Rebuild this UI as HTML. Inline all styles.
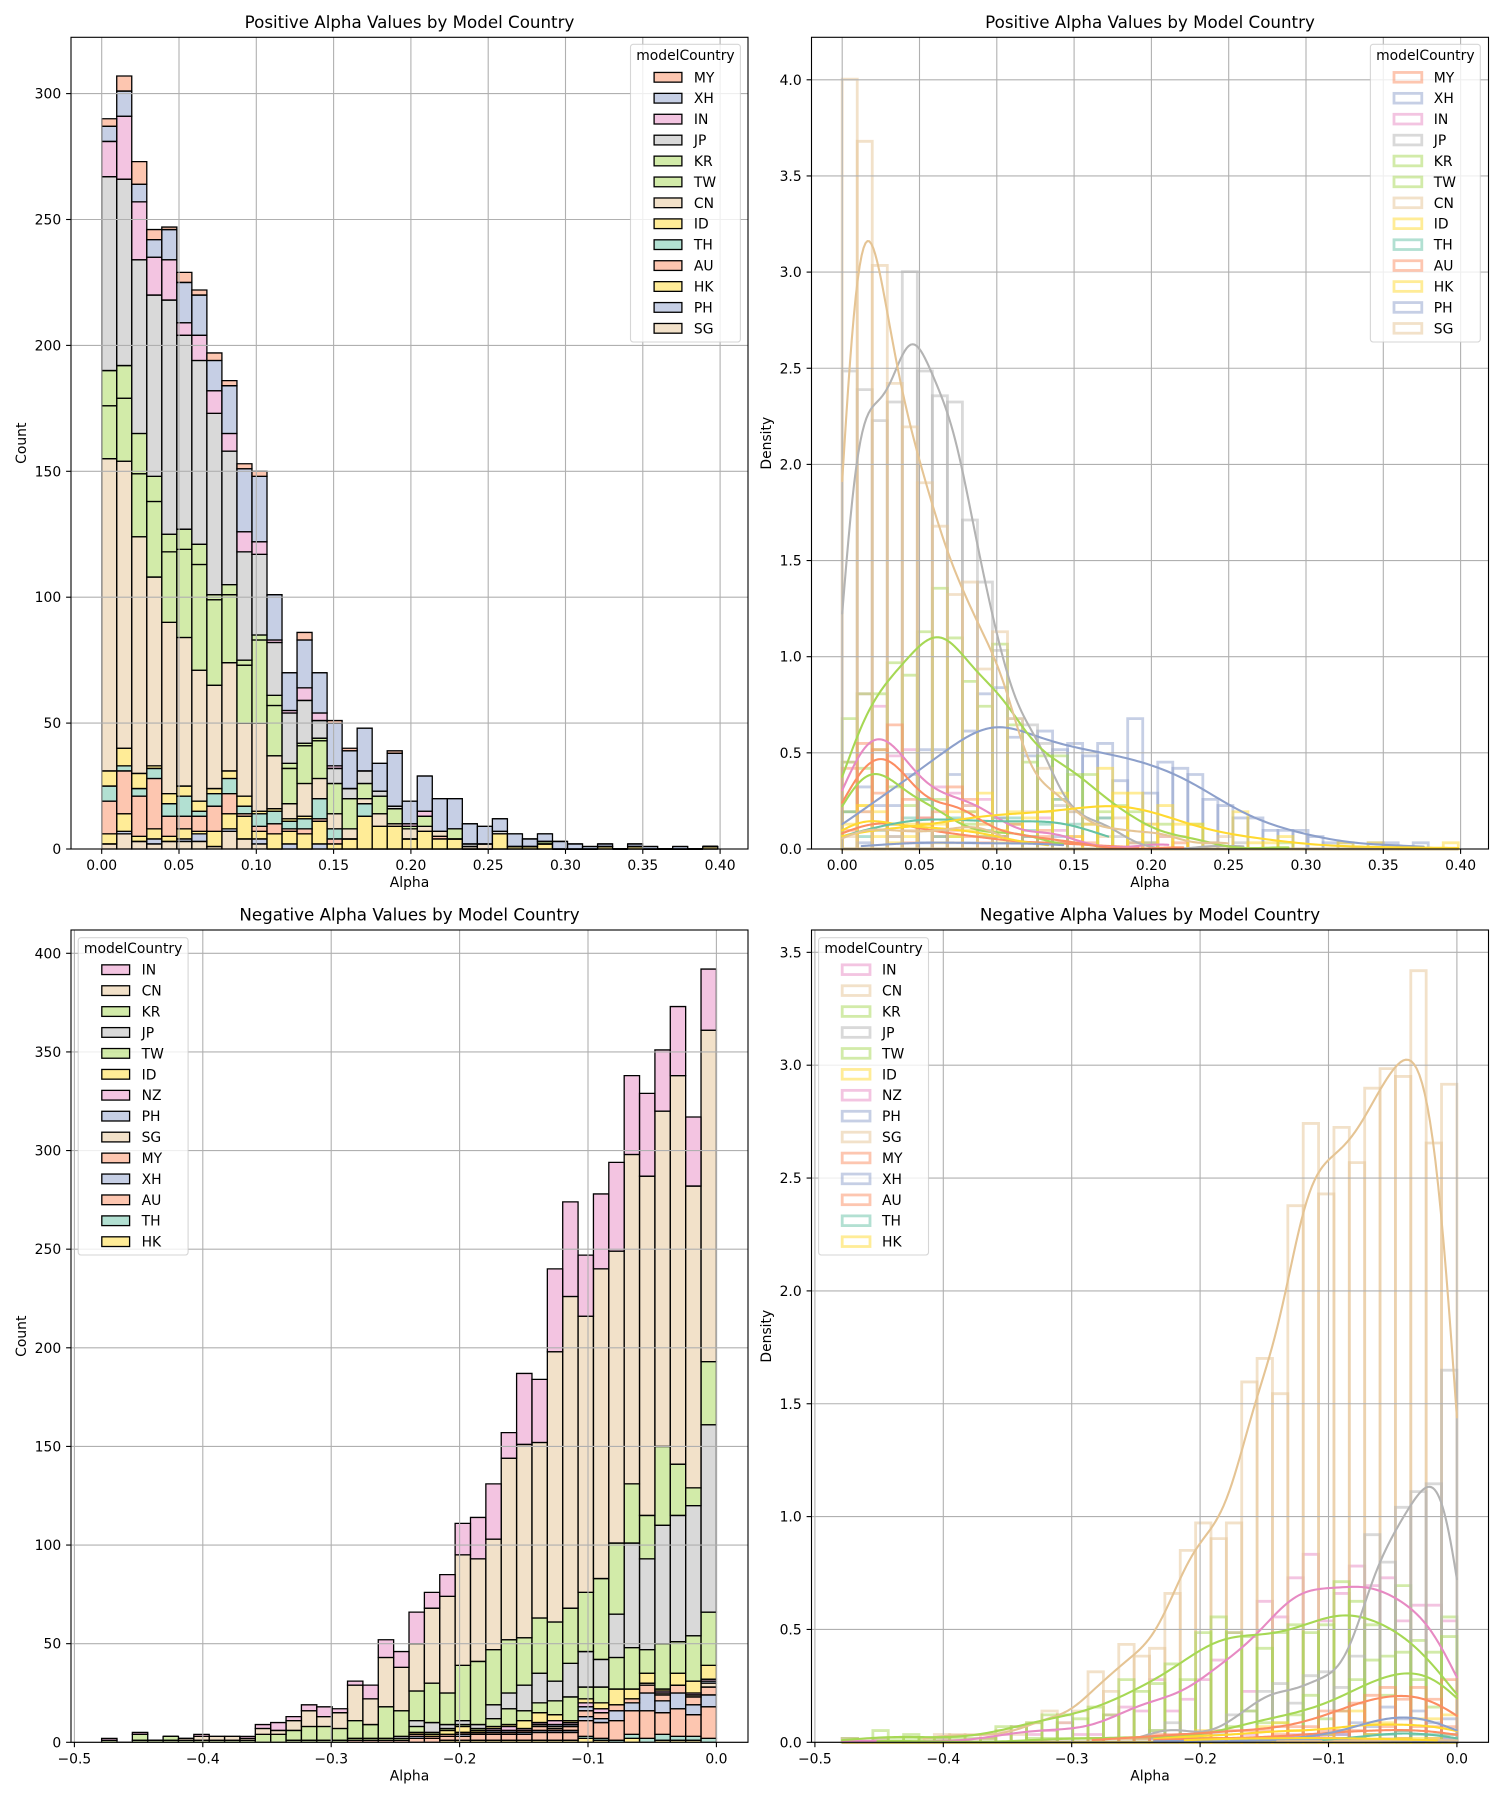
<!DOCTYPE html>
<html><head><meta charset="utf-8">
<style>
html,body{margin:0;padding:0;background:#fff;}
svg{display:block;}
text{font-family:"DejaVu Sans","Liberation Sans",sans-serif;fill:#000;}
.t{font-size:13.9px;}
.h{font-size:16.7px;}
</style></head><body>
<svg id="s" xmlns="http://www.w3.org/2000/svg" width="1500" height="1800" viewBox="0 0 1500 1800">
<rect x="0" y="0" width="1500" height="1800" fill="#fff"/>
<g id="plots"></g>
<g id="axes"></g>
<g id="leg"></g>

<!-- Titles -->
<text class="h" x="409.5" y="27.8" text-anchor="middle">Positive Alpha Values by Model Country</text>
<text class="h" x="1150" y="27.8" text-anchor="middle">Positive Alpha Values by Model Country</text>
<text class="h" x="409.5" y="920.5" text-anchor="middle">Negative Alpha Values by Model Country</text>
<text class="h" x="1150" y="920.5" text-anchor="middle">Negative Alpha Values by Model Country</text>

<!-- TL x ticks -->
<g class="t" text-anchor="middle">
<text x="101.7" y="870">0.00</text><text x="179.0" y="870">0.05</text><text x="256.3" y="870">0.10</text>
<text x="333.6" y="870">0.15</text><text x="410.9" y="870">0.20</text><text x="488.2" y="870">0.25</text>
<text x="565.5" y="870">0.30</text><text x="642.8" y="870">0.35</text><text x="720.1" y="870">0.40</text>
</g>
<!-- TR x ticks -->
<g class="t" text-anchor="middle">
<text x="842.2" y="870">0.00</text><text x="919.5" y="870">0.05</text><text x="996.8" y="870">0.10</text>
<text x="1074.1" y="870">0.15</text><text x="1151.4" y="870">0.20</text><text x="1228.7" y="870">0.25</text>
<text x="1306.0" y="870">0.30</text><text x="1383.3" y="870">0.35</text><text x="1460.6" y="870">0.40</text>
</g>
<!-- TL y ticks -->
<g class="t" text-anchor="end">
<text x="61.2" y="854">0</text><text x="61.2" y="728.1">50</text><text x="61.2" y="602.2">100</text>
<text x="61.2" y="476.3">150</text><text x="61.2" y="350.4">200</text><text x="61.2" y="224.5">250</text>
<text x="61.2" y="98.6">300</text>
</g>
<!-- TR y ticks -->
<g class="t" text-anchor="end">
<text x="801.7" y="854">0.0</text><text x="801.7" y="757.85">0.5</text><text x="801.7" y="661.7">1.0</text>
<text x="801.7" y="565.55">1.5</text><text x="801.7" y="469.4">2.0</text><text x="801.7" y="373.25">2.5</text>
<text x="801.7" y="277.1">3.0</text><text x="801.7" y="180.95">3.5</text><text x="801.7" y="84.8">4.0</text>
</g>
<!-- BL x ticks -->
<g class="t" text-anchor="middle">
<text x="74.4" y="1763.3">−0.5</text><text x="202.8" y="1763.3">−0.4</text><text x="331.2" y="1763.3">−0.3</text>
<text x="459.6" y="1763.3">−0.2</text><text x="588.0" y="1763.3">−0.1</text><text x="716.4" y="1763.3">0.0</text>
</g>
<!-- BR x ticks -->
<g class="t" text-anchor="middle">
<text x="814.9" y="1763.3">−0.5</text><text x="943.3" y="1763.3">−0.4</text><text x="1071.7" y="1763.3">−0.3</text>
<text x="1200.1" y="1763.3">−0.2</text><text x="1328.5" y="1763.3">−0.1</text><text x="1456.9" y="1763.3">0.0</text>
</g>
<!-- BL y ticks -->
<g class="t" text-anchor="end">
<text x="61.2" y="1747.3">0</text><text x="61.2" y="1648.7">50</text><text x="61.2" y="1550.05">100</text>
<text x="61.2" y="1451.4">150</text><text x="61.2" y="1352.8">200</text><text x="61.2" y="1254.2">250</text>
<text x="61.2" y="1155.55">300</text><text x="61.2" y="1056.9">350</text><text x="61.2" y="958.3">400</text>
</g>
<!-- BR y ticks -->
<g class="t" text-anchor="end">
<text x="801.7" y="1747.3">0.0</text><text x="801.7" y="1634.45">0.5</text><text x="801.7" y="1521.6">1.0</text>
<text x="801.7" y="1408.75">1.5</text><text x="801.7" y="1295.9">2.0</text><text x="801.7" y="1183.05">2.5</text>
<text x="801.7" y="1070.2">3.0</text><text x="801.7" y="957.35">3.5</text>
</g>

<!-- Axis labels -->
<text class="t" x="409.5" y="887" text-anchor="middle">Alpha</text>
<text class="t" x="1150" y="887" text-anchor="middle">Alpha</text>
<text class="t" x="409.5" y="1780.3" text-anchor="middle">Alpha</text>
<text class="t" x="1150" y="1780.3" text-anchor="middle">Alpha</text>
<text class="t" transform="translate(26,443.2) rotate(-90)" text-anchor="middle">Count</text>
<text class="t" transform="translate(771,443.2) rotate(-90)" text-anchor="middle">Density</text>
<text class="t" transform="translate(26,1336.2) rotate(-90)" text-anchor="middle">Count</text>
<text class="t" transform="translate(771,1336.2) rotate(-90)" text-anchor="middle">Density</text>

<!-- TL legend text -->
<g class="t">
<text x="685.45" y="59.8" text-anchor="middle">modelCountry</text>
<text x="693.9" y="82.3">MY</text><text x="693.9" y="103.2">XH</text><text x="693.9" y="124.1">IN</text>
<text x="693.9" y="145.1">JP</text><text x="693.9" y="166.0">KR</text><text x="693.9" y="186.9">TW</text>
<text x="693.9" y="207.8">CN</text><text x="693.9" y="228.7">ID</text><text x="693.9" y="249.7">TH</text>
<text x="693.9" y="270.6">AU</text><text x="693.9" y="291.5">HK</text><text x="693.9" y="312.4">PH</text>
<text x="693.9" y="333.3">SG</text>
</g>
<!-- TR legend text -->
<g class="t">
<text x="1425.35" y="59.8" text-anchor="middle">modelCountry</text>
<text x="1433.8" y="82.3">MY</text><text x="1433.8" y="103.2">XH</text><text x="1433.8" y="124.1">IN</text>
<text x="1433.8" y="145.1">JP</text><text x="1433.8" y="166.0">KR</text><text x="1433.8" y="186.9">TW</text>
<text x="1433.8" y="207.8">CN</text><text x="1433.8" y="228.7">ID</text><text x="1433.8" y="249.7">TH</text>
<text x="1433.8" y="270.6">AU</text><text x="1433.8" y="291.5">HK</text><text x="1433.8" y="312.4">PH</text>
<text x="1433.8" y="333.3">SG</text>
</g>
<!-- BL legend text -->
<g class="t">
<text x="133.15" y="953.2" text-anchor="middle">modelCountry</text>
<text x="141.6" y="974.7">IN</text><text x="141.6" y="995.6">CN</text><text x="141.6" y="1016.5">KR</text>
<text x="141.6" y="1037.5">JP</text><text x="141.6" y="1058.4">TW</text><text x="141.6" y="1079.3">ID</text>
<text x="141.6" y="1100.2">NZ</text><text x="141.6" y="1121.1">PH</text><text x="141.6" y="1142.1">SG</text>
<text x="141.6" y="1163.0">MY</text><text x="141.6" y="1183.9">XH</text><text x="141.6" y="1204.8">AU</text>
<text x="141.6" y="1225.7">TH</text><text x="141.6" y="1246.7">HK</text>
</g>
<!-- BR legend text -->
<g class="t">
<text x="873.55" y="953.2" text-anchor="middle">modelCountry</text>
<text x="882" y="974.7">IN</text><text x="882" y="995.6">CN</text><text x="882" y="1016.5">KR</text>
<text x="882" y="1037.5">JP</text><text x="882" y="1058.4">TW</text><text x="882" y="1079.3">ID</text>
<text x="882" y="1100.2">NZ</text><text x="882" y="1121.1">PH</text><text x="882" y="1142.1">SG</text>
<text x="882" y="1163.0">MY</text><text x="882" y="1183.9">XH</text><text x="882" y="1204.8">AU</text>
<text x="882" y="1225.7">TH</text><text x="882" y="1246.7">HK</text>
</g>
</svg>
<script>
(function(){
var NS="http://www.w3.org/2000/svg";
function mk(p,tag,a){var e=document.createElementNS(NS,tag);for(var k in a)e.setAttribute(k,a[k]);p.appendChild(e);return e;}
var C={te:'#66c2a5',or:'#fc8d62',bl:'#8da0cb',pi:'#e78ac3',gr:'#a6d854',ye:'#ffd92f',ta:'#e5c494',gy:'#b3b3b3'};
var TH=['SG','PH','HK','AU','TH','ID','CN','TW','KR','JP','IN','XH','MY'];
var TC=[C.ta,C.bl,C.ye,C.or,C.te,C.ye,C.ta,C.gr,C.gr,C.gy,C.pi,C.bl,C.or];
var BH=['HK','TH','AU','XH','MY','SG','PH','NZ','ID','TW','JP','KR','CN','IN'];
var BC=[C.ye,C.te,C.or,C.bl,C.or,C.ta,C.bl,C.pi,C.ye,C.gr,C.gy,C.gr,C.ta,C.pi];
function row(H,o){if(Array.isArray(o))return o;var r=[];for(var i=0;i<H.length;i++)r.push(o[H[i]]||0);return r;}

var TDraw=[
[2,0,4,13,6,6,124,21,14,77,14,6,3],
[6,1,7,17,2,7,114,25,13,74,25,10,6],
[3,0,2,16,3,6,94,25,16,69,23,7,9],
[2,2,4,20,4,1,75,30,10,72,15,7,4],
[3,0,2,8,5,4,68,28,7,93,16,12,1],
[3,1,4,5,8,4,59,35,8,77,5,16,4],
[3,3,1,6,2,4,52,42,8,73,10,16,2],
[1,0,6,10,5,2,41,34,2,72,9,12,3],
[7,1,6,8,6,3,43,27,4,53,7,19,2],
[4,0,9,1,3,4,29,23,2,43,8,25,2],
[2,2,3,2,5,1,35,33,2,32,5,26,2],
[0,0,6,4,5,1,21,20,4,21,1,18,0],
[0,2,5,1,3,1,6,14,2,20,1,15,0],
[0,0,6,2,4,1,13,15,1,17,5,19,3],
[0,2,9,1,8,0,8,15,1,7,3,16,0],
{HK:2,AU:2,TH:4,CN:6,TW:12,JP:6,IN:1,XH:17,MY:1},
{HK:4,CN:4,TW:12,JP:4,XH:15,MY:1},
{HK:13,TH:5,CN:2,TW:6,JP:5,XH:17},
{HK:9,CN:5,TW:7,JP:2,XH:11},
{HK:9,CN:1,TW:6,JP:1,XH:21,MY:1},
{HK:4,CN:4,TW:1,IN:1,XH:9},
{HK:7,CN:2,TW:4,IN:2,XH:14},
{HK:4,AU:1,CN:2,XH:13},
{HK:4,TW:4,XH:12},
{CN:1,JP:1,XH:8},
{CN:2,XH:7},
{HK:6,JP:1,XH:5},
{HK:1,XH:5},
{HK:1,XH:3},
{HK:2,TW:1,XH:3},
{XH:3},{XH:2},{XH:1},{HK:1,XH:1},{},{HK:1,XH:1},{XH:1},{},{XH:1},{},{HK:1}
];
var TD=TDraw.map(function(o){return row(TH,o);});

var BDraw=[
{KR:1,IN:1},{},{TW:1,KR:3,IN:1},{KR:1},{TW:1,KR:2},{KR:1,CN:1},{KR:1,CN:2,IN:1},{KR:1,CN:2},{KR:1,CN:2},{KR:1,CN:1,IN:1},
{KR:4,CN:3,IN:2},{KR:4,CN:2,IN:4},{TW:1,KR:5,CN:5,IN:2},{TW:1,KR:7,CN:8,IN:3},{TW:1,KR:7,CN:5,IN:5},{TW:1,KR:6,CN:8,IN:2},
{AU:1,TW:1,KR:9,CN:18,IN:2},{AU:1,TW:1,KR:7,CN:13,IN:7},{AU:1,TW:1,KR:16,CN:25,IN:9},{AU:1,TW:1,JP:1,KR:13,CN:22,IN:8},
{AU:2,XH:1,MY:1,ID:1,TW:3,JP:3,KR:15,CN:24,IN:16},
{AU:2,MY:1,ID:1,TW:1,JP:5,KR:20,CN:38,IN:8},
{HK:1,AU:2,MY:1,ID:2,TW:1,JP:2,KR:16,CN:49,IN:11},
{HK:1,AU:2,XH:1,MY:1,ID:3,TW:1,JP:2,KR:28,CN:56,IN:16},
{HK:1,AU:3,MY:1,ID:1,TW:1,JP:2,KR:32,CN:52,IN:21},
{HK:1,AU:3,MY:1,PH:1,NZ:1,ID:1,TW:4,JP:7,KR:28,CN:56,IN:28},
{HK:1,AU:3,MY:1,PH:1,NZ:2,ID:1,TW:8,JP:8,KR:27,CN:92,IN:13},
{HK:1,AU:3,XH:1,MY:1,NZ:1,ID:4,TW:5,JP:13,KR:24,CN:98,IN:36},
{HK:1,AU:4,XH:1,MY:2,SG:1,NZ:1,ID:5,TW:5,JP:15,KR:28,CN:89,IN:32},
{HK:1,AU:4,XH:1,MY:1,SG:1,PH:1,NZ:2,ID:3,TW:7,JP:10,KR:30,CN:137,IN:42},
{HK:1,AU:4,XH:1,MY:2,PH:1,NZ:1,ID:1,TW:12,JP:17,KR:28,CN:158,IN:48},
{HK:2,TH:1,AU:8,XH:2,MY:3,PH:2,NZ:2,ID:2,TW:6,JP:18,KR:30,CN:140,IN:31},
{HK:1,TH:1,AU:8,XH:2,MY:3,NZ:2,ID:3,TW:8,JP:14,KR:41,CN:157,IN:38},
{TH:1,AU:10,XH:5,MY:3,ID:8,TW:16,JP:22,KR:36,CN:148,IN:45},
{HK:2,TH:2,AU:12,XH:4,MY:2,ID:5,TW:21,JP:53,KR:30,CN:167,IN:40},
{TH:2,AU:14,XH:9,MY:4,SG:1,ID:5,TW:12,JP:46,KR:22,CN:172,IN:42},
{HK:1,TH:3,AU:11,XH:6,MY:3,SG:1,NZ:1,ID:1,TW:23,JP:60,KR:40,CN:170,IN:31},
{HK:1,TH:2,AU:14,XH:8,MY:4,ID:6,TW:16,JP:64,KR:26,CN:197,IN:35},
{HK:1,TH:2,AU:11,XH:5,MY:4,SG:1,NZ:1,ID:6,TW:23,JP:66,KR:9,CN:153,IN:35},
{TH:2,AU:16,XH:6,MY:4,SG:2,PH:1,NZ:1,ID:7,TW:27,JP:95,KR:32,CN:168,IN:31}
];
var BD=BDraw.map(function(o){return row(BH,o);});

var E1=[],E2=[];
for(var i=0;i<=41;i++)E1.push(i*0.3985/41);
for(var i=0;i<=40;i++)E2.push(-0.4788+i*0.4788/40);

function rng(a,b,s){var r=[];for(var v=a;v<=b+1e-9;v+=s)r.push(Math.round(v*1000)/1000);return r;}

var P=[
{x0:71,x1:748,y0:37.3,y1:849,X:function(a){return 101.7+a*1546;},Y:function(v){return 849-v*2.518;},E:E1,D:TD,C:TC,mode:0,xt:rng(0,0.4,0.05),yt:rng(0,300,50)},
{x0:811.5,x1:1488.5,y0:37.3,y1:849,X:function(a){return 842.2+a*1546;},Y:function(v){return 849-v*192.3;},E:E1,D:TD,C:TC,mode:1,xt:rng(0,0.4,0.05),yt:rng(0,4,0.5)},
{x0:71,x1:748,y0:930,y1:1742.3,X:function(a){return 716.4+a*1284;},Y:function(v){return 1742.3-v*1.9725;},E:E2,D:BD,C:BC,mode:0,xt:rng(-0.5,0,0.1),yt:rng(0,400,50)},
{x0:811.5,x1:1488.5,y0:930,y1:1742.3,X:function(a){return 1456.9+a*1284;},Y:function(v){return 1742.3-v*225.7;},E:E2,D:BD,C:BC,mode:1,xt:rng(-0.5,0,0.1),yt:rng(0,3.5,0.5)}
];

var root=document.getElementById('plots');
var AX=document.getElementById('axes');
function f(v){return v.toFixed(2);}
function box(g,xa,xb,ya,yb,attrs){
  attrs.d='M'+f(xa)+' '+f(yb)+'H'+f(xb)+'V'+f(ya)+'H'+f(xa)+'Z';
  return mk(g,'path',attrs);
}

P.forEach(function(p){
  var gb=mk(root,'g',{}),gg=mk(root,'g',{}),gk=mk(root,'g',{});
  var nb=p.E.length-1,nh=p.C.length;
  var N=0;p.D.forEach(function(r){r.forEach(function(v){N+=v;});});
  var w=p.E[1]-p.E[0];
  if(p.mode===0){
    for(var j=0;j<nh;j++){
      for(var i=0;i<nb;i++){
        var cum=0;for(var q=0;q<j;q++)cum+=p.D[i][q];
        var h=p.D[i][j];
        box(gb,p.X(p.E[i]),p.X(p.E[i+1]),p.Y(cum+h),p.Y(cum),{fill:p.C[j],'fill-opacity':0.5,stroke:'#000','stroke-width':1.3});
      }
    }
  }else{
    for(var j=nh-1;j>=0;j--){
      for(var i=0;i<nb;i++){
        var d=p.D[i][j]/(N*w);
        box(gb,p.X(p.E[i]),p.X(p.E[i+1]),p.Y(d),p.Y(0),{fill:'none',stroke:p.C[j],'stroke-opacity':0.5,'stroke-width':2.8});
      }
    }
    for(var j=nh-1;j>=0;j--){
      var cs=[],xs=[],n=0,m=0;
      for(var i=0;i<nb;i++){var c=p.D[i][j];var x=(p.E[i]+p.E[i+1])/2;cs.push(c);xs.push(x);n+=c;m+=c*x;}
      if(n<2)continue;
      m/=n;var v=0;for(var i=0;i<nb;i++)v+=cs[i]*(xs[i]-m)*(xs[i]-m);
      v=v/(n-1)+w*w/12;var sd=Math.sqrt(v)*Math.pow(n,-0.2);
      var i0=0;while(cs[i0]===0)i0++;var i1=nb-1;while(cs[i1]===0)i1--;
      var lo=(i0===0)?p.E[0]:p.E[i0]+0.3*w;
      var hi=(i1===nb-1)?p.E[nb]:p.E[i1+1]-0.3*w;
      var pts=[];
      for(var k=0;k<200;k++){
        var x=lo+(hi-lo)*k/199,s=0;
        for(var i=0;i<nb;i++){if(cs[i]){var z=(x-xs[i])/sd;s+=cs[i]*Math.exp(-0.5*z*z);}}
        s/=(sd*Math.sqrt(2*Math.PI)*N);
        pts.push(f(p.X(x))+','+f(p.Y(s)));
      }
      mk(gk,'polyline',{points:pts.join(' '),fill:'none',stroke:p.C[j],'stroke-width':2.1,'stroke-linejoin':'round','stroke-linecap':'round'});
    }
  }
  p.xt.forEach(function(t){var x=p.X(t);mk(gg,'line',{x1:x,x2:x,y1:p.y0,y2:p.y1,stroke:'#b0b0b0','stroke-width':1.1});});
  p.yt.forEach(function(t){var y=p.Y(t);mk(gg,'line',{x1:p.x0,x2:p.x1,y1:y,y2:y,stroke:'#b0b0b0','stroke-width':1.1});});
  mk(AX,'rect',{x:p.x0,y:p.y0,width:p.x1-p.x0,height:p.y1-p.y0,fill:'none',stroke:'#000','stroke-width':1.1});
  p.xt.forEach(function(t){var x=p.X(t);mk(AX,'line',{x1:x,x2:x,y1:p.y1,y2:p.y1+4.9,stroke:'#000','stroke-width':1.1});});
  p.yt.forEach(function(t){var y=p.Y(t);mk(AX,'line',{x1:p.x0-4.9,x2:p.x0,y1:y,y2:y,stroke:'#000','stroke-width':1.1});});
});

var L=document.getElementById('leg');
function legend(bx,by,n,cols,filled,c0){
  var h=(n===13)?297.7:317.3;
  mk(L,'rect',{x:bx,y:by,width:109.9,height:h,rx:2.8,fill:'#fff','fill-opacity':0.8,stroke:'#ccc','stroke-opacity':0.8,'stroke-width':1.1});
  for(var k=0;k<n;k++){
    var cy=c0+20.92*k;
    if(filled)mk(L,'rect',{x:bx+23.6,y:cy-4.85,width:27.8,height:9.7,fill:cols[k],'fill-opacity':0.5,stroke:'#000','stroke-width':1.3});
    else mk(L,'rect',{x:bx+23.6,y:cy-4.85,width:27.8,height:9.7,fill:'none',stroke:cols[k],'stroke-opacity':0.5,'stroke-width':2.8});
  }
}
var TL=TC.slice().reverse(),BLc=BC.slice().reverse();
legend(630.5,44.3,13,TL,true,77.3);
legend(1370.4,44.3,13,TL,false,77.3);
legend(78.2,937.7,14,BLc,true,969.7);
legend(818.6,937.7,14,BLc,false,969.7);
})();
</script>
</body></html>
